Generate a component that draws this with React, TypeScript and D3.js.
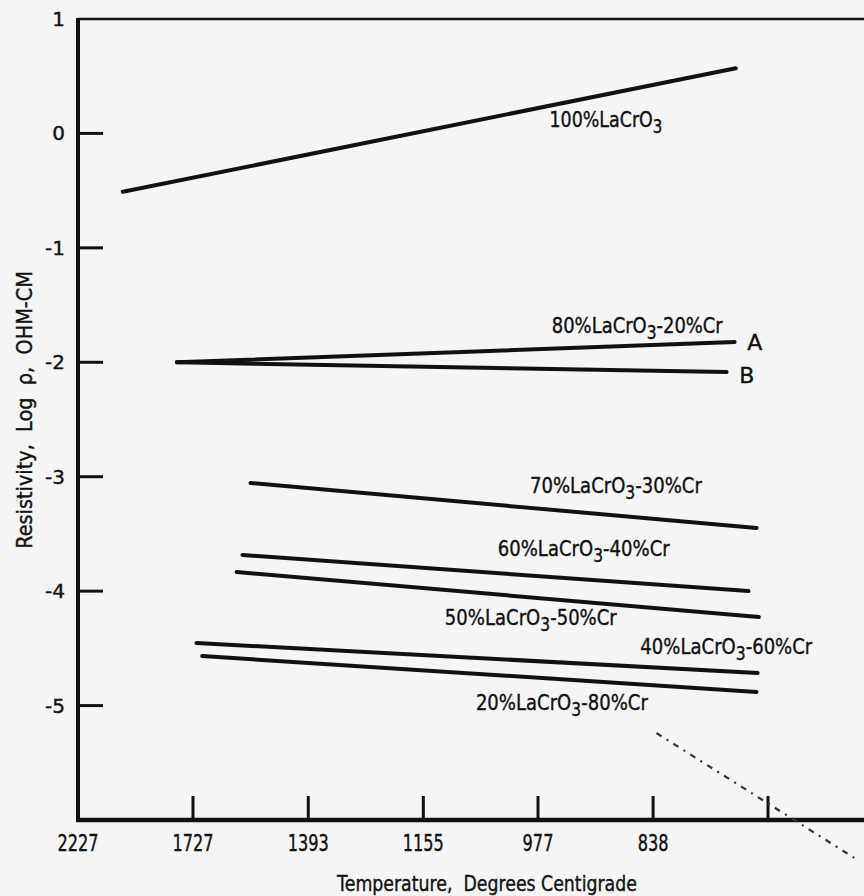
import React, { useEffect, useRef } from 'react';
import * as d3 from 'd3';

// x values are reciprocal temperature, 1000/K ; y values are log rho (ohm-cm)
const tempTicks = [2227, 1727, 1393, 1155, 977, 838, 727];
const tempLabels = ['2227', '1727', '1393', '1155', '977', '838', ''];
const yTicks = [1, 0, -1, -2, -3, -4, -5];

const lacr100 = [[0.439, -0.51], [0.972, 0.57]];
const lacr80a = [[0.486, -2.0], [0.971, -1.823]];
const lacr80b = [[0.486, -2.0], [0.964, -2.085]];
const lacr70 = [[0.55, -3.055], [0.99, -3.448]];
const lacr60 = [[0.543, -3.684], [0.983, -3.999]];
const lacr50 = [[0.538, -3.833], [0.992, -4.226]];
const lacr40 = [[0.503, -4.453], [0.991, -4.715]];
const lacr20 = [[0.508, -4.567], [0.99, -4.881]];
const stray = [[0.903, -5.24], [1.078, -6.35]];

const seriesList = [lacr100, lacr80a, lacr80b, lacr70, lacr60, lacr50, lacr40, lacr20];

// label: [pre, sub, post, x (left edge), y (baseline), fitted width]
const labels: [string, string, string, number, number, number][] = [
  ['100%LaCrO', '3', '', 0.81, 0.056, 113],
  ['80%LaCrO', '3', '-20%Cr', 0.812, -1.744, 171],
  ['A', '', '', 0.982, -1.893, 0],
  ['B', '', '', 0.975, -2.181, 0],
  ['70%LaCrO', '3', '-30%Cr', 0.793, -3.142, 172],
  ['60%LaCrO', '3', '-40%Cr', 0.765, -3.693, 172],
  ['50%LaCrO', '3', '-50%Cr', 0.719, -4.296, 172],
  ['40%LaCrO', '3', '-60%Cr', 0.889, -4.549, 172],
  ['20%LaCrO', '3', '-80%Cr', 0.746, -5.039, 172],
];

const FONT = "'DejaVu Sans', sans-serif";
const ink = '#111';

// squeeze a text horizontally to the wanted width (the lettering is condensed)
const squeeze = (t: any, w: number) => {
  const len = (t.node() as SVGTextElement).getComputedTextLength();
  if (!w || !len) return;
  t.attr('transform', `scale(${w / len},1)`);
};

const App = () => {
  const ref = useRef<SVGSVGElement>(null);

  useEffect(() => {
    document.body.style.margin = '0';
    const svg = d3.select(ref.current);
    svg.selectAll('*').remove();

    const width = 864;
    const height = 896;
    const left = 78;
    const top = 19;
    const bottom = 820;

    svg.append('rect').attr('width', width).attr('height', height).attr('fill', '#f5f5f5');

    const x = d3.scaleLinear().domain([0.4, 0.4 + (width - left) / 1150]).range([left, width]);
    const y = d3.scaleLinear().domain([-6, 1]).range([bottom, top]);
    const invT = (t: number) => 1000 / (t + 273);

    const addText = (px: number, py: number, txt: string, size: number, w: number, anchor = 'start', rot = 0) => {
      const g = svg.append('g').attr('transform', `translate(${px},${py})${rot ? ` rotate(${rot})` : ''}`);
      const t = g.append('text').attr('text-anchor', anchor).attr('font-family', FONT)
        .attr('font-size', size).attr('fill', ink).attr('stroke', ink).attr('stroke-width', 0.4)
        .attr('xml:space', 'preserve').text(txt);
      squeeze(t, w);
      return t;
    };

    // frame
    svg.append('line').attr('x1', left).attr('x2', width).attr('y1', top).attr('y2', top)
      .attr('stroke', ink).attr('stroke-width', 2.5);
    svg.append('line').attr('x1', left).attr('x2', left).attr('y1', top - 1).attr('y2', bottom + 2)
      .attr('stroke', ink).attr('stroke-width', 4);
    svg.append('line').attr('x1', left - 2).attr('x2', width).attr('y1', bottom).attr('y2', bottom)
      .attr('stroke', ink).attr('stroke-width', 4.5);

    // y ticks
    svg.selectAll('.ytick').data(yTicks.filter((d) => d < 1)).enter().append('line')
      .attr('x1', left).attr('x2', left + 25)
      .attr('y1', (d) => y(d)).attr('y2', (d) => y(d))
      .attr('stroke', ink).attr('stroke-width', 3);
    yTicks.forEach((d) => {
      addText(65, y(d) + 7, d < 0 ? '-' + Math.abs(d) : String(d), 20, 0, 'end');
    });

    // x ticks
    svg.selectAll('.xtick').data(tempTicks.slice(1)).enter().append('line')
      .attr('x1', (d) => x(invT(d))).attr('x2', (d) => x(invT(d)))
      .attr('y1', bottom).attr('y2', bottom - 24)
      .attr('stroke', ink).attr('stroke-width', 3);
    tempTicks.forEach((d, i) => {
      if (tempLabels[i]) addText(x(invT(d)), 851, tempLabels[i], 23, tempLabels[i].length * 10.3, 'middle');
    });

    // axis titles
    addText(487, 891, 'Temperature,  Degrees Centigrade', 22, 300, 'middle');
    addText(32, 410, 'Resistivity,  Log  ρ,  OHM-CM', 21, 278, 'middle', -90);

    // data lines
    const line = d3.line<number[]>().x((d) => x(d[0])).y((d) => y(d[1]));
    svg.selectAll('.series').data(seriesList).enter().append('path')
      .attr('d', (d) => line(d))
      .attr('fill', 'none').attr('stroke', ink).attr('stroke-width', 4).attr('stroke-linecap', 'round');

    svg.append('path').attr('d', line(stray))
      .attr('fill', 'none').attr('stroke', '#333').attr('stroke-width', 2.2)
      .attr('stroke-dasharray', '6,6,2,6');

    // curve labels
    labels.forEach(([pre, sub, post, lx, ly, w]) => {
      const g = svg.append('g').attr('transform', `translate(${x(lx)},${y(ly)})`);
      const t = g.append('text').attr('font-family', FONT).attr('font-size', 22)
        .attr('fill', ink).attr('stroke', ink).attr('stroke-width', 0.4);
      t.append('tspan').text(pre);
      if (sub) {
        t.append('tspan').attr('dy', 6).attr('font-size', 19).text(sub);
        if (post) t.append('tspan').attr('dy', -6).text(post);
      }
      squeeze(t, w);
    });
  }, []);

  return <svg ref={ref} width={864} height={896} style={{ display: 'block' }} />;
};

export default App;
